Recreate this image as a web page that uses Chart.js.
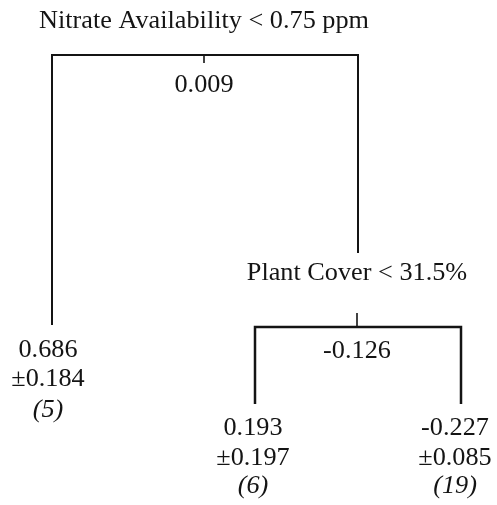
<!DOCTYPE html>
<html>
<head>
<meta charset="utf-8">
<title>Regression tree</title>
<script src="https://cdn.jsdelivr.net/npm/chart.js@4/dist/chart.umd.min.js"></script>
<style>
  html, body { margin: 0; padding: 0; background: #ffffff; }
  #wrap { width: 497px; height: 505px; }
</style>
</head>
<body>
<div id="wrap"><canvas id="tree" width="497" height="505"></canvas></div>
<script>
// Split rules and the value shown under each split
const splitRules = ['Nitrate Availability < 0.75 ppm', 'Plant Cover < 31.5%'];
const splitValues = [0.009, -0.126];

// Terminal nodes: mean, standard error, number of cases
const leafMeans = [0.686, 0.193, -0.227];
const leafErrors = [0.184, 0.197, 0.085];
const leafCounts = [5, 6, 19];

// Tree layout in chart units (x: 0-497, y: 0-505 top-down)
const layout = {
  splits: [
    { cx: 204, ruleY: 28, barY: 55, left: 52, right: 358, tickTop: 55, tickBottom: 63,
      valueY: 92, drop: [325, 253], width: 2 },
    { cx: 357, ruleY: 280, barY: 327, left: 255, right: 461, tickTop: 313, tickBottom: 327,
      valueY: 358, drop: [404, 404], width: 2.5 }
  ],
  leaves: [
    { cx: 48, y: [357, 386, 417] },
    { cx: 253, y: [435, 465, 493] },
    { cx: 455, y: [435, 465, 493] }
  ]
};

const ink = '#141414';
const fontFamily = '"Liberation Serif", "Times New Roman", serif';
const fontSize = 25;
const stretch = 1.05;

function fmt(v) { return v.toFixed(3); }

// Each split becomes a bracket (left drop, bar, right drop) plus a short tick
const datasets = [];
layout.splits.forEach(s => {
  datasets.push({
    data: [
      { x: s.left, y: s.drop[0] },
      { x: s.left, y: s.barY },
      { x: s.right, y: s.barY },
      { x: s.right, y: s.drop[1] }
    ],
    borderWidth: s.width
  });
  datasets.push({
    data: [{ x: s.cx, y: s.tickTop }, { x: s.cx, y: s.tickBottom }],
    borderWidth: 1.6
  });
});
datasets.forEach(d => {
  Object.assign(d, {
    showLine: true, fill: false, tension: 0, pointRadius: 0, pointHoverRadius: 0,
    borderColor: ink, borderJoinStyle: 'miter', borderCapStyle: 'butt'
  });
});

// Writes the split rules, split values and node summaries at scale positions
const treeText = {
  id: 'treeText',
  beforeDraw(chart) {
    const c = chart.ctx;
    c.save();
    c.fillStyle = '#ffffff';
    c.fillRect(0, 0, chart.width, chart.height);
    c.restore();
  },
  afterDatasetsDraw(chart) {
    const c = chart.ctx, xs = chart.scales.x, ys = chart.scales.y;
    function put(text, x, y, italic) {
      c.save();
      c.font = (italic ? 'italic ' : '') + fontSize + 'px ' + fontFamily;
      c.fillStyle = ink;
      c.textAlign = 'center';
      c.textBaseline = 'alphabetic';
      c.translate(xs.getPixelForValue(x), ys.getPixelForValue(y));
      c.scale(stretch, 1);
      c.fillText(text, 0, 0);
      c.restore();
    }
    layout.splits.forEach((s, i) => {
      put(splitRules[i], s.cx, s.ruleY, false);
      put(fmt(splitValues[i]), s.cx, s.valueY, false);
    });
    layout.leaves.forEach((l, i) => {
      put(fmt(leafMeans[i]), l.cx, l.y[0], false);
      put('\u00B1' + fmt(leafErrors[i]), l.cx, l.y[1], false);
      put('(' + leafCounts[i] + ')', l.cx, l.y[2], true);
    });
  }
};

new Chart(document.getElementById('tree'), {
  type: 'scatter',
  data: { datasets },
  options: {
    responsive: false,
    animation: false,
    events: [],
    layout: { padding: 0 },
    plugins: { legend: { display: false }, tooltip: { enabled: false } },
    scales: {
      x: { type: 'linear', min: 0, max: 497, display: false },
      y: { type: 'linear', min: 0, max: 505, reverse: true, display: false }
    }
  },
  plugins: [treeText]
});
</script>
</body>
</html>
